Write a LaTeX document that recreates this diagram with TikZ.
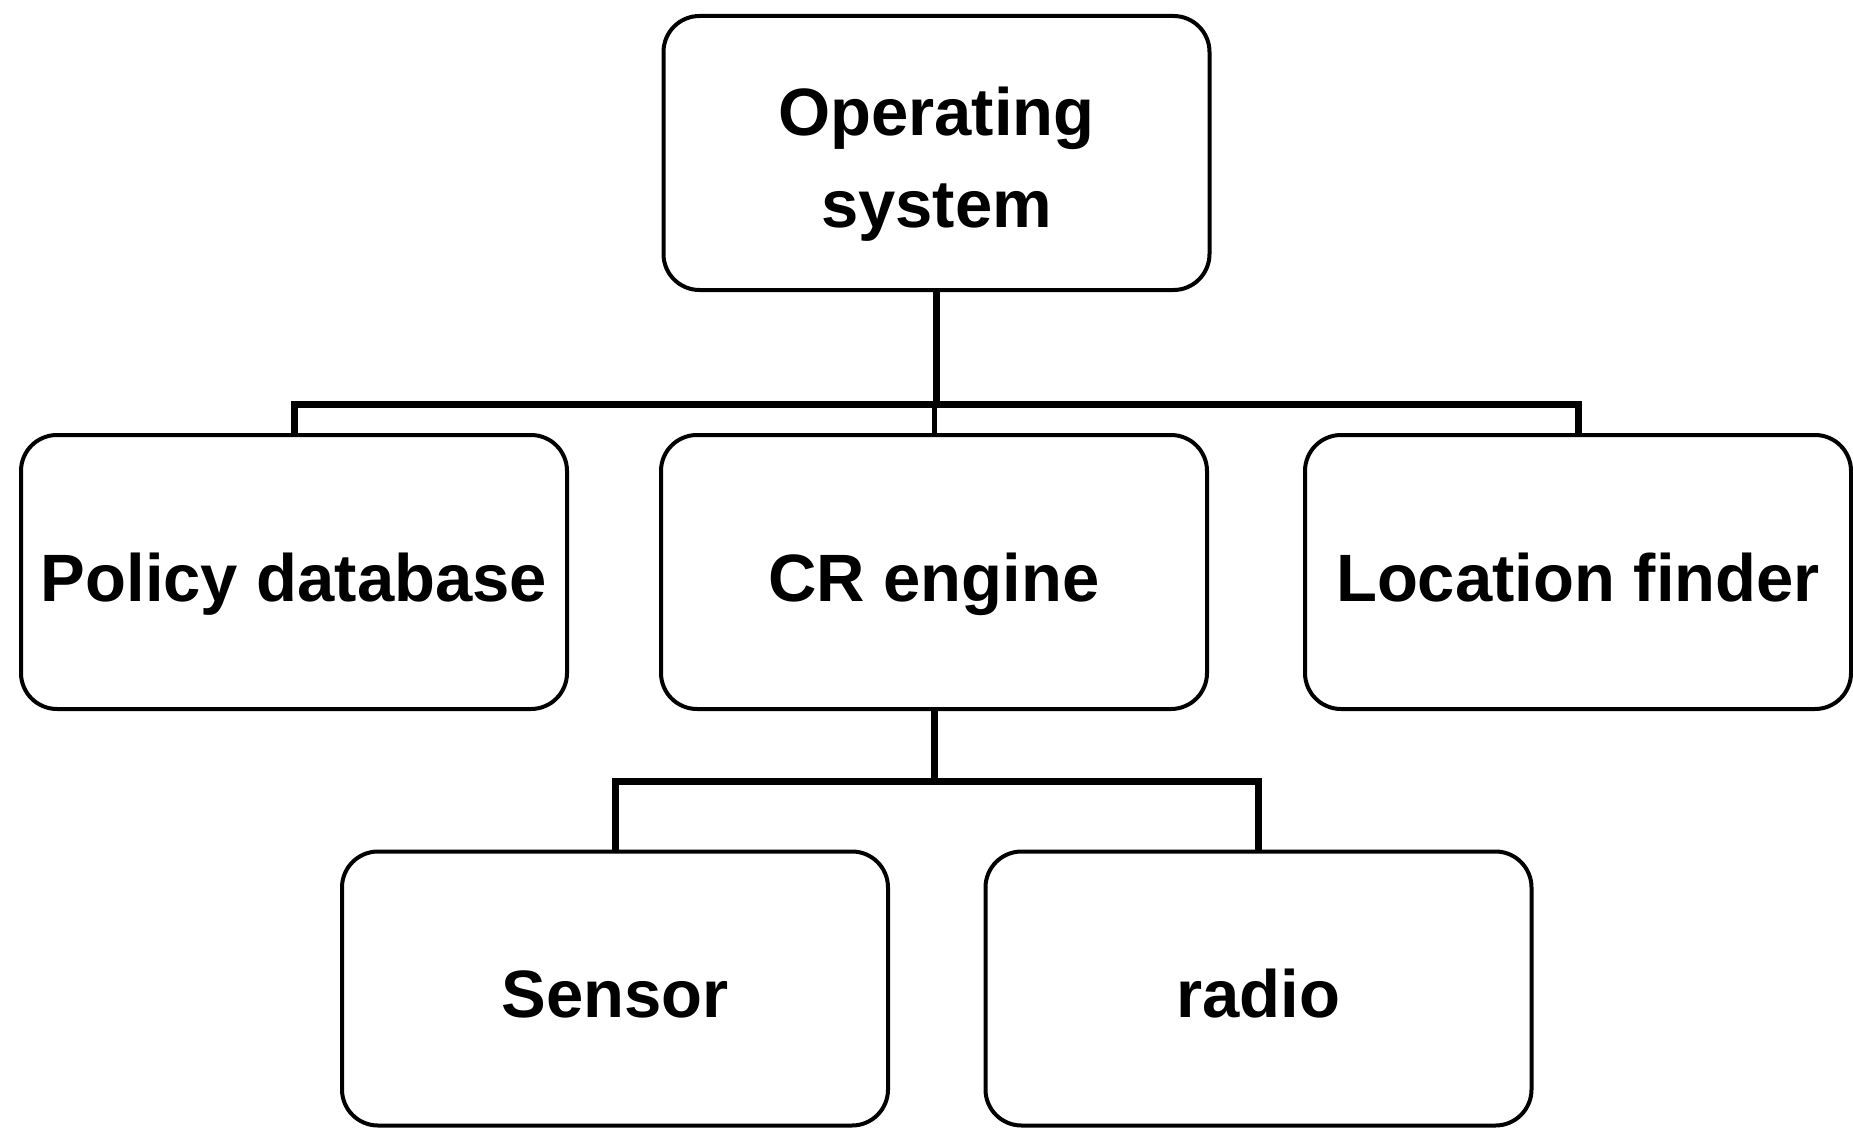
\documentclass[tikz,border=0pt]{standalone}
\usepackage{fontspec}
\setmainfont{Liberation Sans}
\begin{document}
\begin{tikzpicture}[x=1pt,y=-1pt,
  box/.style={draw=black, line width=4pt, rounded corners=36pt, fill=white,
    minimum width=546pt, minimum height=274pt, inner sep=0pt, outer sep=0pt,
    font=\fontsize{67}{92}\selectfont\bfseries, text height=58pt, text depth=0pt},
  conn/.style={draw=black, line width=7pt, line join=miter}]
\useasboundingbox (0,0) rectangle (1853,1129);
\coordinate (bus) at (0,404);
\coordinate (bus2) at (0,781);
\node[box, text height=148pt] (os) at (936.5,153) {\vbox{\hbox to 400pt{\hfil Operating\hfil}\hbox to 400pt{\hfil system\hfil}}};
\node[box] (pol) at (294,572) {Policy database};
\node[box] (cr) at (934,572) {CR engine};
\node[box] (loc) at (1578,572) {Location finder};
\node[box] (sen) at (615,988.5) {Sensor};
\node[box] (rad) at (1258.5,988.5) {radio};
\draw[conn] (os.south) -- (os.south |- bus);
\draw[conn] (pol.north) -- (pol.north |- bus) -- (loc.north |- bus) -- (loc.north);
\draw[conn, line width=5pt] (cr.north) -- (cr.north |- bus);
\draw[conn] (cr.south) -- (cr.south |- bus2);
\draw[conn] (sen.north) -- (sen.north |- bus2) -- (rad.north |- bus2) -- (rad.north);
\end{tikzpicture}
\end{document}
